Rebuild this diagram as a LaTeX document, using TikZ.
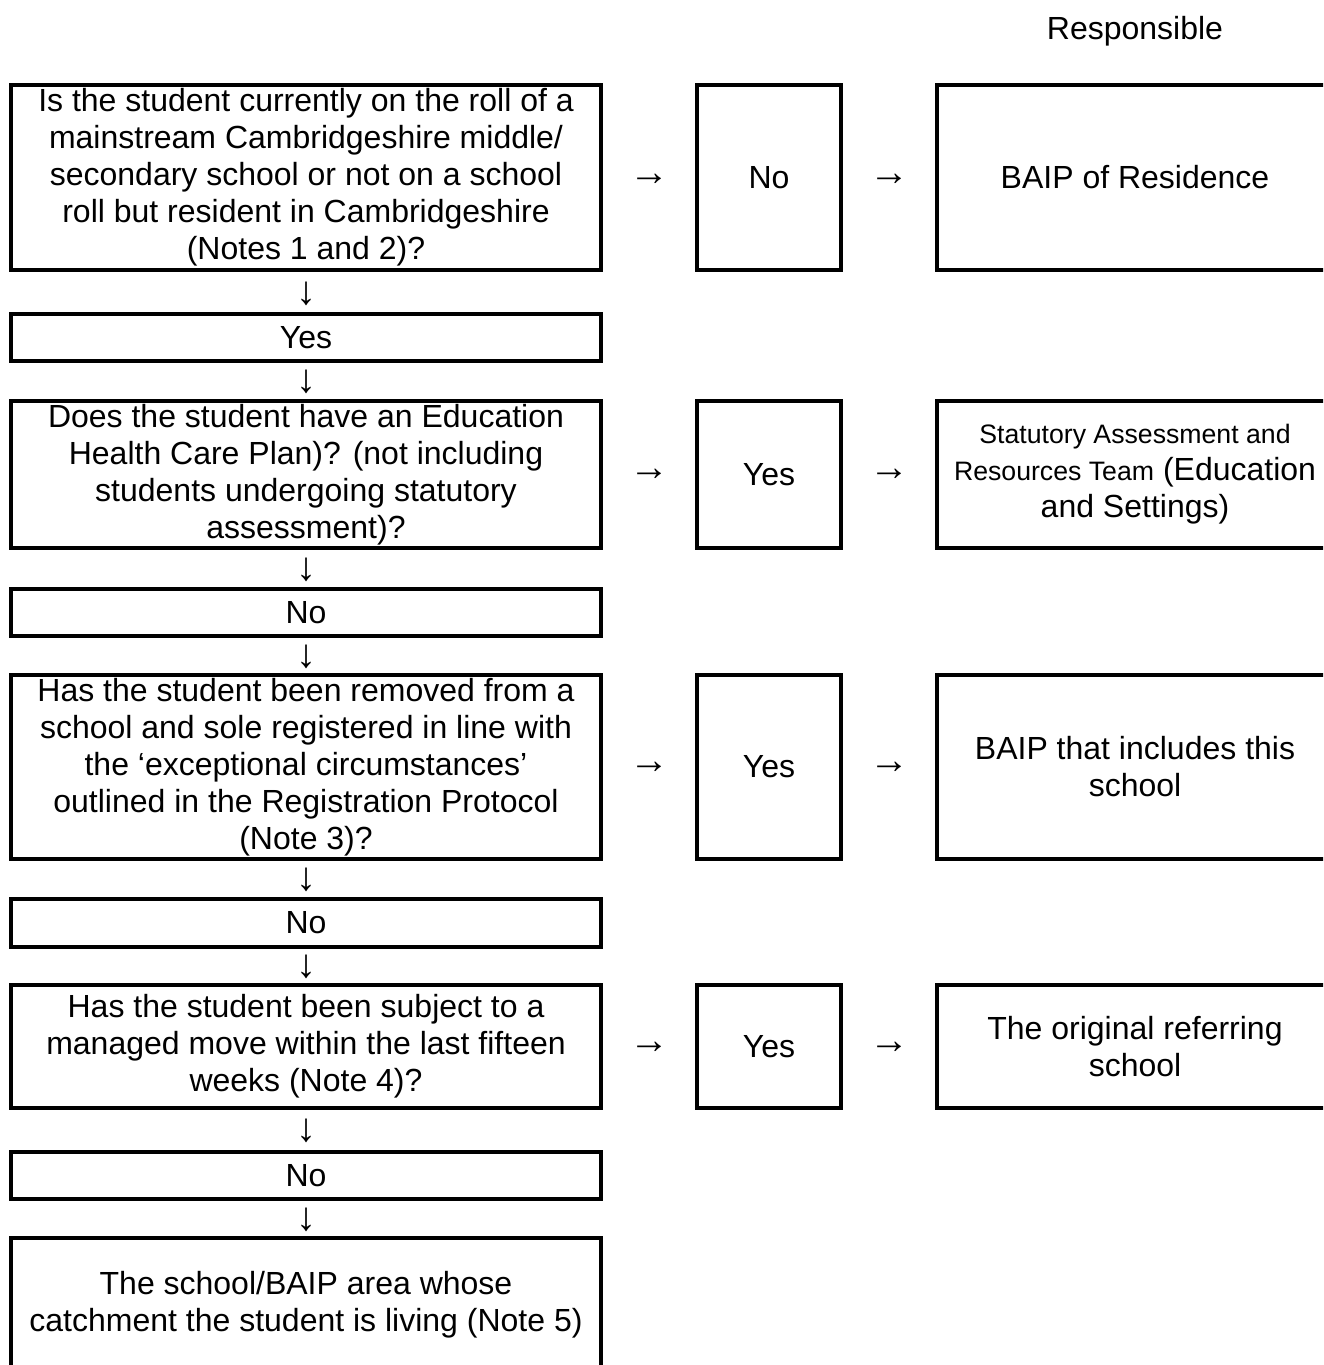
\documentclass[tikz,border=0pt]{standalone}
\usepackage{fontspec}
\setmainfont{Liberation Sans}
\newcommand{\smalltxt}{\fontsize{10pt}{12pt}\selectfont}
\begin{document}
\begin{tikzpicture}[x=0.375pt,y=-0.375pt,
	font=\fontsize{12pt}{13.9pt}\selectfont,
	box/.style={draw,line width=1.2pt,align=center,inner sep=0pt},
	lbox/.style={box,minimum width=221.25pt},
	mbox/.style={box,minimum width=54pt},
	rbox/.style={box,minimum width=148.5pt},
	arr/.style={inner sep=0pt,font=\fontsize{15pt}{16pt}\selectfont}]
	\useasboundingbox (0,0) rectangle (1323,1365);
	\clip (0,0) rectangle (1323,1365);
	\node (resp) at (1135,31) {Responsible};
	% left column
	\node[lbox,minimum height=69.375pt] (q1) at (306,177.5) {Is the student currently on the roll of a\\ mainstream Cambridgeshire middle/\\ secondary school or not on a school\\ roll but resident in Cambridgeshire\\ (Notes 1 and 2)?};
	\node[lbox,minimum height=17.625pt] (a1) at (306,337.5) {Yes};
	\node[lbox,minimum height=55.125pt] (q2) at (306,474.5) {Does the student have an Education\\ Health Care Plan)? (not including\\ students undergoing statutory\\ assessment)?};
	\node[lbox,minimum height=17.625pt] (a2) at (306,612.5) {No};
	\node[lbox,minimum height=69pt] (q3) at (306,767) {Has the student been removed from a\\ school and sole registered in line with\\ the ‘exceptional circumstances’\\ outlined in the Registration Protocol\\ (Note 3)?};
	\node[lbox,minimum height=18pt] (a3) at (306,923) {No};
	\node[lbox,minimum height=46.125pt] (q4) at (306,1046.5) {Has the student been subject to a\\ managed move within the last fifteen\\ weeks (Note 4)?};
	\node[lbox,minimum height=17.625pt] (a4) at (306,1175.5) {No};
	\node[lbox,minimum height=50.25pt] (last) at (306,1305) {The school/BAIP area whose\\ catchment the student is living (Note 5)};
	% down arrows
	\node[arr] (d1) at (306,294) {↓};
	\node[arr] (d2) at (306,382) {↓};
	\node[arr] (d3) at (306,569.5) {↓};
	\node[arr] (d4) at (306,656.5) {↓};
	\node[arr] (d5) at (306,880) {↓};
	\node[arr] (d6) at (306,967) {↓};
	\node[arr] (d7) at (306,1131) {↓};
	\node[arr] (d8) at (306,1219.5) {↓};
	% answers
	\node[mbox,minimum height=69.375pt] (b1) at (769,177.5) {No};
	\node[mbox,minimum height=55.125pt] (b2) at (769,474.5) {Yes};
	\node[mbox,minimum height=69pt] (b3) at (769,767) {Yes};
	\node[mbox,minimum height=46.125pt] (b4) at (769,1046.5) {Yes};
	% responsible
	\node[rbox,minimum height=69.375pt] (r1) at (1135,177.5) {BAIP of Residence};
	\node[rbox,minimum height=55.125pt] (r2) at (1135,474.5) {{\smalltxt Statutory Assessment and}\\ {\smalltxt Resources Team} (Education\\ and Settings)};
	\node[rbox,minimum height=69pt] (r3) at (1135,767) {BAIP that includes this\\ school};
	\node[rbox,minimum height=46.125pt] (r4) at (1135,1046.5) {The original referring\\ school};
	% right arrows
	\node[arr] (e1) at (649,180) {→};
	\node[arr] (f1) at (889,180) {→};
	\node[arr] (e2) at (649,475) {→};
	\node[arr] (f2) at (889,475) {→};
	\node[arr] (e3) at (649,768) {→};
	\node[arr] (f3) at (889,768) {→};
	\node[arr] (e4) at (649,1048) {→};
	\node[arr] (f4) at (889,1048) {→};
\end{tikzpicture}
\end{document}
